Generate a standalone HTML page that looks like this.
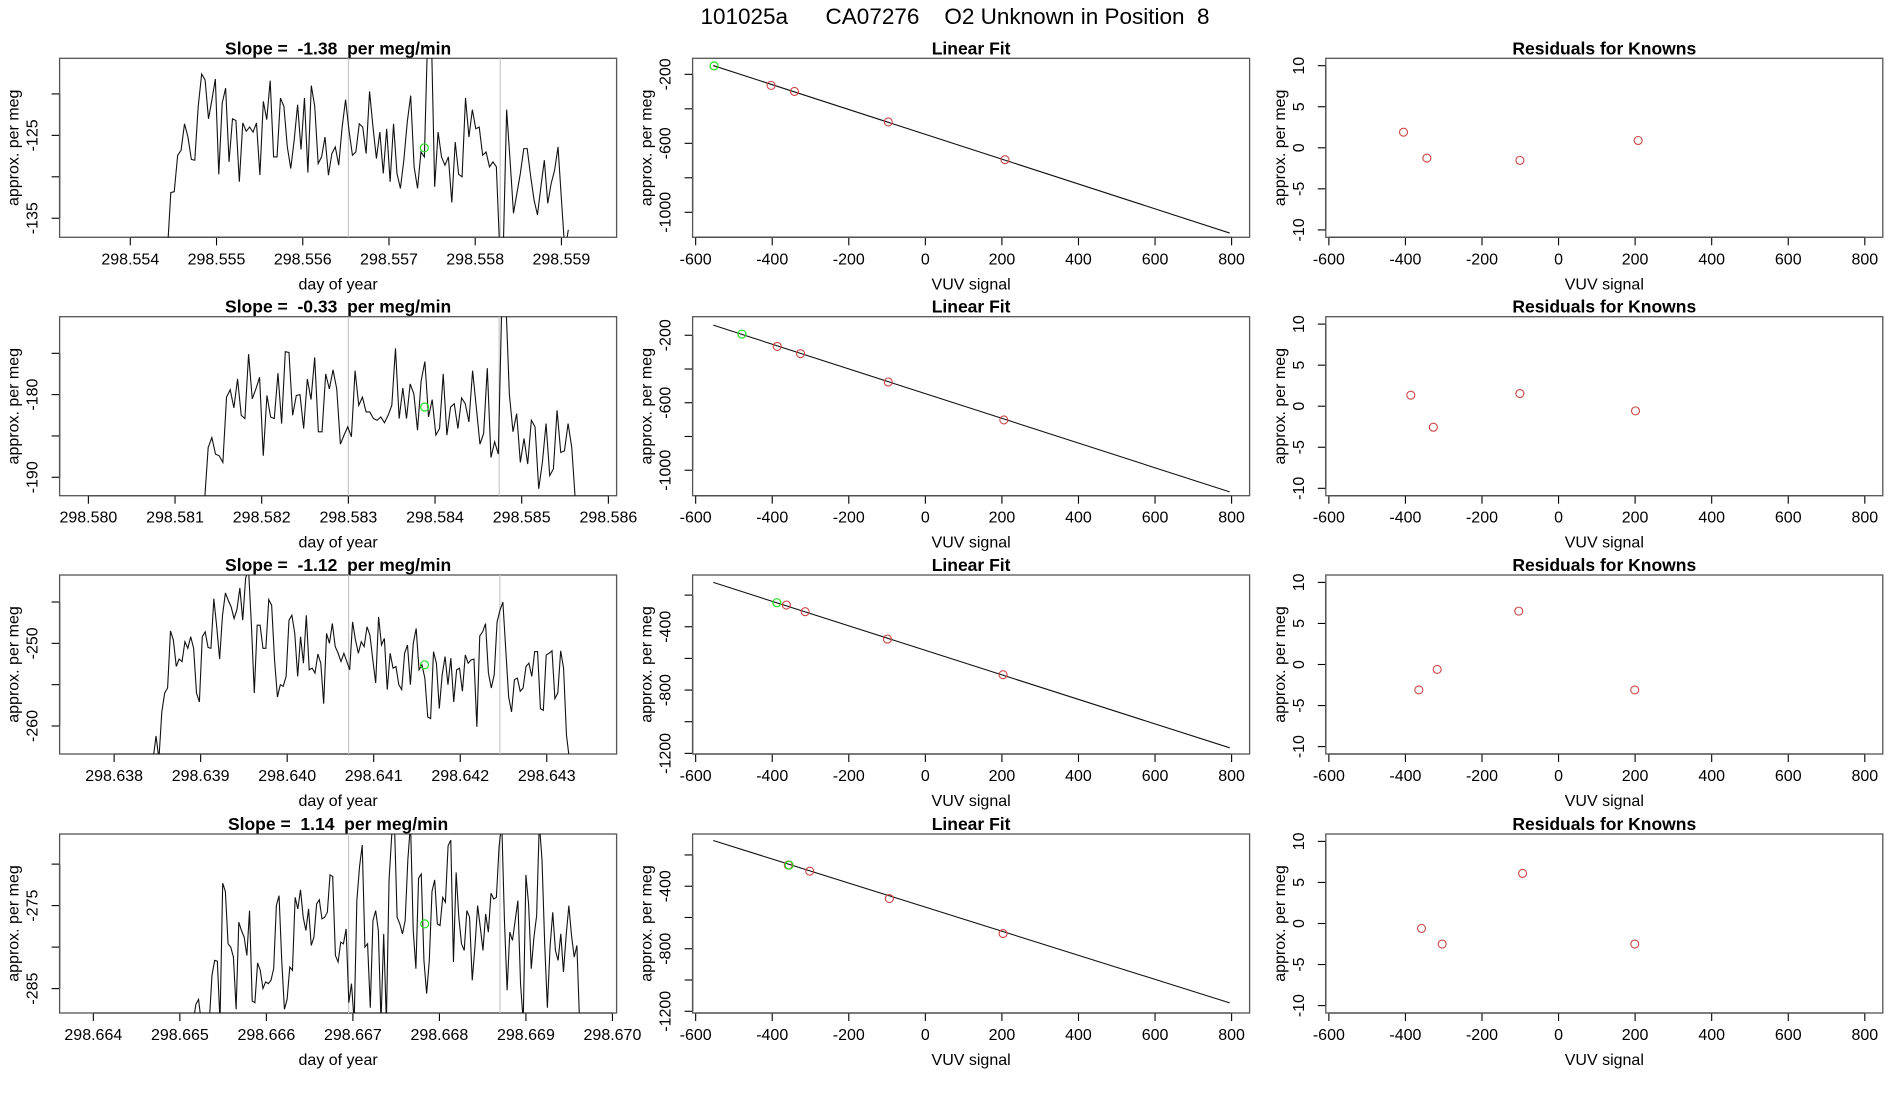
<!DOCTYPE html>
<html><head><meta charset="utf-8"><title>O2 Unknown in Position 8</title>
<style>
html,body{margin:0;padding:0;background:#fff;}
svg{display:block;font-family:"Liberation Sans",sans-serif;}
text{white-space:pre;}
</style></head>
<body>
<svg id="fig" width="1900" height="1100" viewBox="0 0 1900 1100" xmlns="http://www.w3.org/2000/svg">
<text x="955" y="24" font-size="22.5" text-anchor="middle" style="white-space:pre">101025a      CA07276    O2 Unknown in Position  8</text>
</svg>
<script>
// ---------- data: time-series panels ----------
const tsTitles = ["Slope =  -1.38  per meg/min","Slope =  -0.33  per meg/min","Slope =  -1.12  per meg/min","Slope =  1.14  per meg/min"];
const tsStart = [298.55443, 298.58134, 298.638451, 298.665154];
const tsEnd   = [298.55908, 298.58562, 298.643261, 298.66962];
const tsXDomain = [[298.55318,298.55964],[298.579668,298.586095],[298.63737,298.643807],[298.66361,298.670048]];
const tsYDomain = [[-137.3,-115.7],[-192.23,-170.57],[-263.39,-241.73],[-287.94,-266.37]];
const tsXTicks = [[298.554,298.555,298.556,298.557,298.558,298.559],[298.580,298.581,298.582,298.583,298.584,298.585,298.586],[298.638,298.639,298.640,298.641,298.642,298.643],[298.664,298.665,298.666,298.667,298.668,298.669,298.670]];
const tsYTicks = [[-135,-130,-125,-120],[-190,-185,-180,-175],[-260,-255,-250,-245],[-285,-280,-275,-270]];
const tsYLabels = [[-135,-125],[-190,-180],[-260,-250],[-285,-275]];
const tsVLines = [[298.55653,298.55829],[298.583,298.58474],[298.64071,298.642458],[298.66695,298.6687]];
const tsMarkT = [298.55741, 298.58388, 298.641587, 298.66783];
const tsMarkV = [-126.5, -181.5, -252.6, -277.2];
const p1Values = [-139,-131.9,-131.8,-127.4,-126.8,-123.6,-125.2,-127.9,-128.0,-121.5,-117.6,-118.3,-123.0,-120.7,-118.2,-129.7,-121.1,-119.3,-128.2,-123.0,-123.2,-130.6,-123.5,-124.5,-124.0,-124.6,-123.5,-129.8,-120.9,-123.1,-118.4,-127.6,-127.6,-120.5,-121.5,-126.4,-129.0,-125.6,-121.3,-126.7,-120.5,-129.5,-119.0,-121.5,-128.4,-127.6,-125.2,-129.8,-127.2,-126.4,-128.6,-124.0,-120.7,-124.4,-127.4,-127.0,-123.6,-124.0,-127.2,-119.7,-124.0,-127.8,-124.6,-129.6,-124.2,-130.6,-123.6,-129.6,-131.4,-128.0,-123.4,-120.2,-128.8,-131.4,-127.0,-127.6,-112,-112,-131.2,-124.6,-127.6,-128.6,-127.6,-133.1,-125.8,-129.7,-130.0,-120.5,-125.2,-121.9,-124.2,-124.0,-127.4,-127.0,-128.8,-128.2,-128.8,-139,-139,-121.9,-128.0,-134.4,-132.0,-129.6,-126.6,-126.6,-129.9,-132.8,-134.6,-131.2,-128.0,-133.2,-130.8,-129.2,-126.4,-132.8,-139,-136.4];
const p2Values = [-193,-186.4,-185.2,-187.2,-187.4,-188.2,-180.3,-179.4,-181.6,-178.1,-182.5,-182.9,-175.1,-180.5,-179.3,-177.9,-187.4,-180.1,-182.7,-182.9,-177.4,-183.5,-174.8,-174.9,-182.5,-180.1,-180.0,-184.1,-178.1,-180.6,-175.5,-184.5,-184.5,-177.5,-179.3,-177.0,-179.3,-186.0,-184.9,-183.9,-185.1,-177.1,-181.3,-180.3,-182.1,-182.1,-182.9,-183.1,-182.7,-183.4,-182.5,-181.3,-174.4,-182.9,-179.2,-182.9,-178.7,-179.9,-184.3,-178.3,-176.0,-182.7,-180.6,-184.9,-184.1,-177.5,-184.9,-181.5,-181.1,-184.1,-180.4,-181.1,-183.3,-177.1,-181.5,-186.0,-184.7,-176.8,-187.6,-185.7,-187.2,-168,-168,-179.9,-184.5,-182.3,-188.2,-185.3,-188.4,-183.1,-183.9,-191.4,-188.2,-183.5,-189.8,-189.0,-181.9,-187.0,-186.8,-183.5,-186.4,-193];
const p3Values = [-264,-261.2,-264,-258.3,-256.0,-255.4,-248.5,-249.6,-252.8,-251.9,-252.2,-249.8,-250.6,-249.2,-250.6,-256.0,-257.1,-249.2,-248.6,-250.5,-250.6,-244.6,-248.0,-251.9,-246.6,-243.9,-244.8,-245.6,-247.0,-245.9,-243.3,-247.2,-242.1,-241,-247.8,-256.0,-247.8,-247.8,-250.6,-250.6,-244.7,-245.4,-252.0,-256.5,-255.0,-255.2,-254.0,-247.2,-246.6,-248.8,-254.0,-249.2,-252.4,-246.6,-253.2,-253.0,-253.6,-251.3,-252.4,-257.3,-248.8,-250.0,-247.6,-250.4,-251.2,-252.2,-251.2,-252.2,-253.2,-247.4,-249.6,-251.2,-249.8,-250.4,-248.0,-249.0,-252.0,-254.8,-246.8,-250.2,-249.4,-255.6,-251.2,-253.0,-252.8,-255.0,-255.6,-251.2,-250.2,-255.0,-250.0,-248.2,-253.2,-252.6,-254.2,-258.9,-259.1,-251.0,-252.4,-257.9,-253.8,-251.6,-255.0,-251.8,-257.1,-253.2,-253.0,-255.8,-251.4,-252.4,-252.0,-251.9,-260.1,-249.1,-248.6,-247.6,-253.6,-255.4,-253.8,-247.4,-246.0,-245.0,-250.8,-256.5,-258.3,-254.4,-254.2,-255.8,-255.4,-252.8,-252.4,-254.0,-251.0,-251.0,-257.9,-258.1,-251.4,-251.2,-250.9,-256.7,-256.0,-250.9,-253.0,-261.1,-264];
const p4Values = [-289,-286.9,-286.3,-289,-289,-289,-289,-283.4,-281.6,-281.7,-289,-272.3,-273.3,-279.6,-280.0,-281.2,-287.5,-277.0,-278.0,-278.8,-281.0,-275.6,-286.5,-286.7,-281.9,-282.8,-285.0,-284.2,-284.4,-284.0,-282.6,-275.0,-273.8,-281.6,-287.5,-286.3,-282.4,-282.8,-274.0,-275.4,-273.1,-276.4,-278.0,-275.4,-279.8,-278.8,-274.8,-274.3,-276.6,-276.4,-275.8,-271.3,-271.5,-281.0,-281.8,-279.4,-279.6,-277.8,-286.7,-284.4,-289,-274.4,-270.3,-267.7,-280.0,-279.6,-287.3,-276.8,-275.6,-278.0,-289,-278.4,-289,-271.9,-266.5,-265,-276.4,-277.2,-278.4,-276.8,-269.5,-265,-278.0,-282.6,-271.7,-271.2,-281.6,-285.6,-281.6,-273.3,-271.9,-277.2,-277.4,-274.0,-274.6,-267.8,-267.1,-281.8,-271.0,-276.4,-279.6,-280.4,-275.6,-276.4,-284.0,-280.0,-275.0,-277.6,-280.4,-276.0,-278.2,-273.5,-274.2,-274.0,-267.9,-265,-276.8,-285.2,-278.2,-279.2,-276.8,-274.4,-284.4,-289,-271.3,-274.8,-282.6,-278.8,-276.2,-265,-269.5,-279.6,-287.3,-280.0,-275.8,-280.4,-281.6,-278.4,-283.0,-278.6,-275.0,-278.6,-281.2,-279.8,-289];
const tsSeries = [p1Values, p2Values, p3Values, p4Values];

// ---------- data: linear fit panels ----------
const vuvDomain = [-608, 847];
const vuvTicks = [-600,-400,-200,0,200,400,600,800];
const fitYDomain = [[-1145,-107],[-1151,-90],[-1204,-73],[-1211,-66]];
const fitYTicks = [[-1000,-800,-600,-400,-200],[-1000,-800,-600,-400,-200],[-1200,-1000,-800,-600,-400,-200],[-1200,-1000,-800,-600,-400,-200]];
const fitYLabels = [[-1000,-600,-200],[-1000,-600,-200],[-1200,-800,-400],[-1200,-800,-400]];
const fitSlope = [-0.7199, -0.7326, -0.7747, -0.770];
const fitIntercept = [-548, -546, -549, -534];
const fitLineX = [-554, 795];
const unkX = [-552, -479, -388, -356];
const unkY = [-151, -193, -248, -265];
const knownX = [[-403,-342,-97,208],[-387,-326,-97,205],[-363,-314,-99,203],[-358,-302,-94,203]];
const knownY = [[-264,-299,-476,-695],[-266,-309,-477,-702],[-263,-305,-478,-703],[-265,-304,-479,-703]];

// ---------- data: residual panels ----------
const residYDomain = [-10.9, 10.9];
const residYTicks = [-10,-5,0,5,10];
const residX = [[-405,-344,-101,208],[-386,-327,-101,201],[-365,-317,-104,199],[-358,-304,-94,199]];
const residY = [[1.9,-1.25,-1.53,0.89],[1.34,-2.56,1.54,-0.57],[-3.1,-0.6,6.5,-3.1],[-0.6,-2.5,6.1,-2.5]];

// ---------- layout ----------
const NS = "http://www.w3.org/2000/svg";
const svg = document.getElementById('fig');
const rowTop = [58.3, 316.7, 575, 834];
const boxH = 179;
const colLeft = [59.6, 692.6, 1325.8];
const boxW = 557;

function mk(tag, attrs, parent){
  const e = document.createElementNS(NS, tag);
  for (const k in attrs) e.setAttribute(k, attrs[k]);
  (parent||svg).appendChild(e);
  return e;
}
function scale(d0,d1,r0,r1){ return v => r0 + (v-d0)/(d1-d0)*(r1-r0); }

function panel(r, c, title, xd, yd, xticks, xfmt, yticks, ylabels, xtitle, name){
  const x0 = colLeft[c], y0 = rowTop[r], x1 = x0+boxW, y1 = y0+boxH;
  const g = mk('g', {});
  
  
  const sx = scale(xd[0], xd[1], x0, x1);
  const sy = scale(yd[0], yd[1], y1, y0);
  const cid = 'clip'+r+'_'+c;
  const cp = mk('clipPath', {id:cid}, g);
  mk('rect', {x:x0, y:y0, width:boxW, height:boxH}, cp);
  const t = mk('text', {x:(x0+x1)/2, y:y0-4, 'font-size':17.5, 'font-weight':'bold', 'text-anchor':'middle', style:'white-space:pre'}, g);
  t.textContent = title;
  
  
  // x axis
  const xa = mk('g', {}, g);
  
  
  mk('line', {x1:sx(xticks[0]), x2:sx(xticks[xticks.length-1]), y1:y1, y2:y1, stroke:'#000', 'stroke-width':1.3}, xa);
  xticks.forEach(v => {
    mk('line', {x1:sx(v), x2:sx(v), y1:y1, y2:y1+8, stroke:'#000', 'stroke-width':1.1}, xa);
    const tl = mk('text', {x:sx(v), y:y1+27, 'font-size':16, 'text-anchor':'middle'}, xa);
    tl.textContent = xfmt(v);
    
    
  });
  const xt = mk('text', {x:(x0+x1)/2, y:y1+52, 'font-size':16, 'text-anchor':'middle'}, g);
  xt.textContent = xtitle;
  
  
  // y axis
  const ya = mk('g', {}, g);
  
  
  mk('line', {x1:x0, x2:x0, y1:sy(yticks[0]), y2:sy(yticks[yticks.length-1]), stroke:'#000', 'stroke-width':1.3}, ya);
  yticks.forEach(v => {
    mk('line', {x1:x0-8, x2:x0, y1:sy(v), y2:sy(v), stroke:'#000', 'stroke-width':1.1}, ya);
  });
  ylabels.forEach(v => {
    const X = x0-22, Y = sy(v);
    const tl = mk('text', {x:X, y:Y, 'font-size':16, 'text-anchor':'middle', transform:'rotate(-90 '+X+' '+Y+')'}, ya);
    tl.textContent = String(v);
    
    
  });
  const YT = (y0+y1)/2, XT = x0-41;
  const yt = mk('text', {x:XT, y:YT, 'font-size':16, 'text-anchor':'middle', transform:'rotate(-90 '+XT+' '+YT+')'}, g);
  yt.textContent = 'approx. per meg';
  
  
  const box = mk('rect', {x:x0, y:y0, width:boxW, height:boxH, fill:'none', stroke:'#555', 'stroke-width':1.3}, g);
  
  
  const inner = mk('g', {'clip-path':'url(#'+cid+')'}, g);
  return {g:inner, sx, sy};
}

for (let r = 0; r < 4; r++) {
  // time series
  const P = panel(r, 0, tsTitles[r], tsXDomain[r], tsYDomain[r], tsXTicks[r], v => v.toFixed(3), tsYTicks[r], tsYLabels[r], 'day of year', 'timeseries-panel-'+(r+1));
  tsVLines[r].forEach(tv => {
    const l = mk('line', {x1:P.sx(tv), x2:P.sx(tv), y1:rowTop[r], y2:rowTop[r]+boxH, stroke:'#c8c8c8', 'stroke-width':1.2}, P.g);
    
    
  });
  const vals = tsSeries[r];
  const n = vals.length;
  const pts = vals.map((v,i) => {
    const t = tsStart[r] + (tsEnd[r]-tsStart[r]) * i/(n-1);
    return P.sx(t).toFixed(2)+','+P.sy(v).toFixed(2);
  }).join(' ');
  const pl = mk('polyline', {points:pts, fill:'none', stroke:'#111', 'stroke-width':1.1}, P.g);
  
  
  const gm = mk('circle', {cx:P.sx(tsMarkT[r]), cy:P.sy(tsMarkV[r]), r:4, fill:'none', stroke:'#22dd22', 'stroke-width':1.2}, P.g);
  
  

  // linear fit
  const L = panel(r, 1, 'Linear Fit', vuvDomain, fitYDomain[r], vuvTicks, v => String(v), fitYTicks[r], fitYLabels[r], 'VUV signal', 'linear-fit-panel-'+(r+1));
  const fl = mk('line', {x1:L.sx(fitLineX[0]), y1:L.sy(fitIntercept[r]+fitSlope[r]*fitLineX[0]), x2:L.sx(fitLineX[1]), y2:L.sy(fitIntercept[r]+fitSlope[r]*fitLineX[1]), stroke:'#111', 'stroke-width':1.1}, L.g);
  
  
  knownX[r].forEach((kx,i) => {
    const c = mk('circle', {cx:L.sx(kx), cy:L.sy(knownY[r][i]), r:4, fill:'none', stroke:'#cc4444', 'stroke-width':1.1}, L.g);
    
    
  });
  const uc = mk('circle', {cx:L.sx(unkX[r]), cy:L.sy(unkY[r]), r:4, fill:'none', stroke:'#22dd22', 'stroke-width':1.2}, L.g);
  
  

  // residuals
  const R = panel(r, 2, 'Residuals for Knowns', vuvDomain, residYDomain, vuvTicks, v => String(v), residYTicks, residYTicks, 'VUV signal', 'residuals-panel-'+(r+1));
  residX[r].forEach((rx,i) => {
    const c = mk('circle', {cx:R.sx(rx), cy:R.sy(residY[r][i]), r:4, fill:'none', stroke:'#cc4444', 'stroke-width':1.1}, R.g);
    
    
  });
}
</script>
</body></html>
